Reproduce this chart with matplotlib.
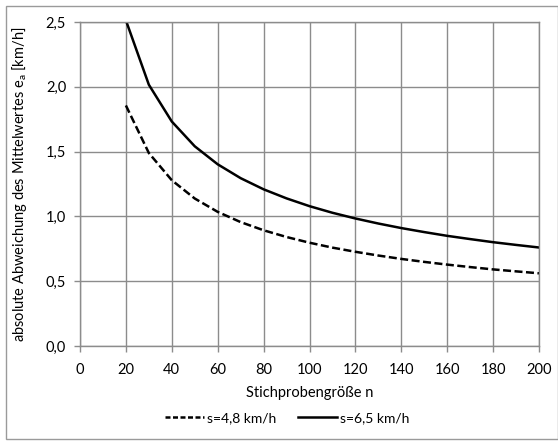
import matplotlib.pyplot as plt
from matplotlib.patches import Rectangle

plt.rcParams['font.family'] = ['Lato', 'DejaVu Sans']

# Stichprobengröße und absolute Abweichung des Mittelwertes
n = [20, 30, 40, 50, 60, 70, 80, 90, 100, 110, 120, 130, 140, 150, 160, 170, 180, 190, 200]
ea_s48 = [1.856, 1.489, 1.279, 1.138, 1.035, 0.956, 0.893, 0.841, 0.797, 0.759,
          0.727, 0.698, 0.672, 0.649, 0.628, 0.609, 0.591, 0.576, 0.561]
ea_s65 = [2.513, 2.016, 1.732, 1.541, 1.402, 1.295, 1.209, 1.139, 1.079, 1.028,
          0.984, 0.945, 0.910, 0.879, 0.850, 0.825, 0.801, 0.780, 0.760]
xticks = list(range(0, 201, 20))
yticks = [0.0, 0.5, 1.0, 1.5, 2.0, 2.5]

W, H = 558, 443
fig = plt.figure(figsize=(W / 100, H / 100), dpi=100)
ax = fig.add_axes([80 / W, 1 - 346 / H, (539 - 80) / W, (346 - 22) / H])

grid = '#8c8c8c'
ax.plot(n, ea_s48, color='black', lw=1.8, ls=(0, (3.2, 1.4)), label='s=4,8 km/h')
ax.plot(n, ea_s65, color='black', lw=1.8, label='s=6,5 km/h')

ax.set_xlim(0, 200)
ax.set_ylim(0, 2.5)
ax.set_xticks(xticks)
ax.set_yticks(yticks)
ax.set_yticklabels([f'{v:.1f}'.replace('.', ',') for v in yticks])
ax.grid(True, color=grid, lw=1)
ax.set_axisbelow(True)
for sp in ax.spines.values():
    sp.set_color(grid)
    sp.set_linewidth(1)
ax.tick_params(axis='both', colors=grid, labelcolor='black', labelsize=10.5,
               length=4, width=1)
ax.tick_params(axis='x', pad=8)
ax.tick_params(axis='y', pad=6)

ax.set_xlabel('Stichprobengröße n', fontsize=10.5, labelpad=7)
ax.set_ylabel('absolute Abweichung des Mittelwertes e$_\\mathregular{a}$ [km/h]',
              fontsize=10.5, labelpad=12)

leg = fig.legend(loc='center', bbox_to_anchor=(287 / W, 1 - 418 / H), ncol=2, frameon=False,
                 fontsize=10, handlelength=2.8, handletextpad=0.2, columnspacing=1.6)
leg.get_lines()[0].set_linestyle((0, (2, 1)))

# Rahmen um das Diagramm
fig.patches.append(Rectangle((6 / W, 4 / H), 1 - 6 / W, 1 - 10 / H, transform=fig.transFigure,
                             fill=False, edgecolor='#9a9a9a', lw=1))

fig.savefig('out.png', dpi=100)
